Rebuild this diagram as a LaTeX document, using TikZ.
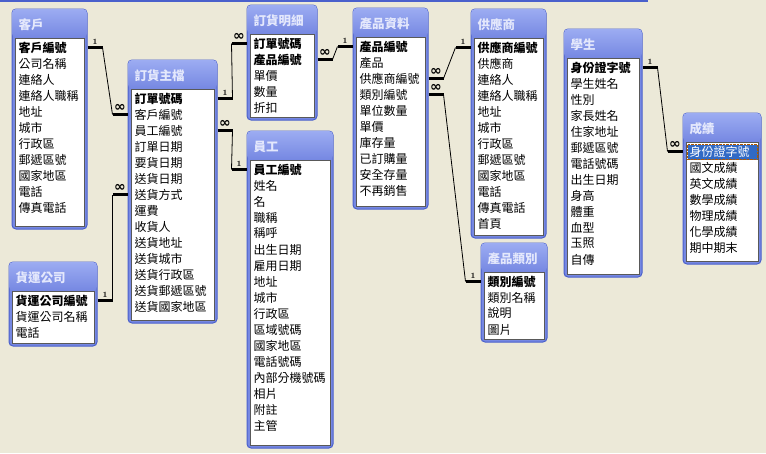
\documentclass[tikz,border=0pt]{standalone}
\usepackage{xcolor}
\usepackage{fontspec}
\newfontfamily\cjk{Noto Sans CJK TC}
\newfontfamily\dvsans{DejaVu Sans}
\usepackage{tikz}
\usetikzlibrary{positioning, fit}

\definecolor{desk}{RGB}{236,233,216}
\definecolor{framefill}{RGB}{118,136,226}
\definecolor{hdrtop}{RGB}{156,172,242}
\definecolor{hdrline}{RGB}{74,96,204}
\definecolor{titletext}{RGB}{228,232,252}
\definecolor{selblue}{RGB}{49,106,197}

\newcommand{\pk}[1]{\textbf{#1}}
\newcommand{\selrow}[1]{\textcolor{white}{#1}}
\newcommand{\many}{{\dvsans\bfseries\fontsize{14}{14}\selectfont ∞}}

% table: id, left, top, right, bottom, title
\newcommand{\dbtable}[6]{%
  \node[tblframe, fit={(#2,#3) (#4,#5)}] (#1) {};
  \shade[top color=hdrtop, bottom color=framefill, rounded corners=4pt]
    ([shift={(0.5pt,-0.5pt)}]#1.north west) rectangle ([shift={(-0.5pt,-29pt)}]#1.north east);
  \node[tbltitle] (#1-t) at ([xshift=7pt, yshift=-16pt]#1.north west) {#6};
  \draw[fieldlist] ([xshift=4pt, yshift=-29.5pt]#1.north west) rectangle ([xshift=-3pt, yshift=3pt]#1.south east);
}
% fields of a table
\newcommand{\dbfields}[2]{%
  \foreach \f [count=\i] in {#2}
    \node[field] (#1-\i) at ([xshift=5pt, yshift={-39pt-16pt*(\i-1)}]#1.north west) {\f};
}
% relationship line: from (right side), to (left side), label at from, label at to
\newcommand{\relate}[4]{%
  \draw[relend] (#1) -- node[card] {#3} ++(15,0) coordinate (ra);
  \draw[relend] (#2) -- node[card] {#4} ++(-15,0) coordinate (rb);
  \draw[relmid] (ra) -- (rb);
}

\begin{document}
\begin{tikzpicture}[
    x=1pt, y=-1pt,
    tblframe/.style={draw=hdrline, fill=framefill, line width=1pt, rounded corners=4pt, inner sep=0pt},
    tbltitle/.style={anchor=west, inner sep=0pt, text=titletext, font=\cjk\bfseries\fontsize{12.5}{14}\selectfont},
    fieldlist/.style={fill=white, draw=black!65, line width=0.9pt},
    field/.style={anchor=west, inner xsep=2pt, inner ysep=1pt, font=\cjk\fontsize{12}{14}\selectfont},
    relend/.style={line width=2.6pt, line cap=butt},
    relmid/.style={line width=0.8pt},
    card/.style={above, yshift=1.5pt, inner sep=0.5pt, font=\bfseries\fontsize{8}{8}\selectfont}
]

% Desk
\fill[desk] (0,0) rectangle (766,453);
\useasboundingbox (0,0) rectangle (766,453);
\draw[hdrline, line width=1.5pt] (0,0.75) -- (648,0.75);

% Tables
\dbtable{kh}{12}{9}{87}{229}{客戶}
\dbfields{kh}{\pk{客戶編號}, 公司名稱, 連絡人, 連絡人職稱, 地址, 城市, 行政區, 郵遞區號, 國家地區, 電話, 傳真電話}

\dbtable{hy}{9}{262}{97}{346}{貨運公司}
\dbfields{hy}{\pk{貨運公司編號}, 貨運公司名稱, 電話}

\dbtable{zh}{128}{60}{217}{323}{訂貨主檔}
\dbfields{zh}{\pk{訂單號碼}, 客戶編號, 員工編號, 訂單日期, 要貨日期, 送貨日期, 送貨方式, 運費, 收貨人, 送貨地址, 送貨城市, 送貨行政區, 送貨郵遞區號, 送貨國家地區}

\dbtable{mx}{247}{5}{317}{120}{訂貨明細}
\dbfields{mx}{\pk{訂單號碼}, \pk{產品編號}, 單價, 數量, 折扣}

\dbtable{yg}{247}{131}{333}{448}{員工}
\dbfields{yg}{\pk{員工編號}, 姓名, 名, 職稱, 稱呼, 出生日期, 雇用日期, 地址, 城市, 行政區, 區域號碼, 國家地區, 電話號碼, 內部分機號碼, 相片, 附註, 主管}

\dbtable{cp}{353}{8}{428}{209}{產品資料}
\dbfields{cp}{\pk{產品編號}, 產品, 供應商編號, 類別編號, 單位數量, 單價, 庫存量, 已訂購量, 安全存量, 不再銷售}

\dbtable{gy}{471}{9}{546}{238}{供應商}
\dbfields{gy}{\pk{供應商編號}, 供應商, 連絡人, 連絡人職稱, 地址, 城市, 行政區, 郵遞區號, 國家地區, 電話, 傳真電話, 首頁}

\dbtable{lb}{481}{243}{547}{342}{產品類別}
\dbfields{lb}{\pk{類別編號}, 類別名稱, 說明, 圖片}

\dbtable{xs}{564}{29}{642}{277}{學生}
\dbfields{xs}{\pk{身份證字號}, 學生姓名, 性別, 家長姓名, 住家地址, 郵遞區號, 電話號碼, 出生日期, 身高, 體重, 血型, 玉照, 自傳}

\dbtable{cj}{683}{113}{761}{264}{成績}
\fill[selblue] ([xshift=5pt, yshift=-32pt]cj.north west) rectangle ([xshift=-4pt, yshift=-47pt]cj.north east);
\draw[orange!70!black, densely dotted] ([xshift=5pt, yshift=-32pt]cj.north west) rectangle ([xshift=-4pt, yshift=-47pt]cj.north east);
\dbfields{cj}{\selrow{身份證字號}, 國文成績, 英文成績, 數學成績, 物理成績, 化學成績, 期中期末}

% Relationships
\relate{kh-1 -| kh.east}{zh-2 -| zh.west}{1}{\many}
\relate{hy-1 -| hy.east}{zh-7 -| zh.west}{1}{\many}
\relate{zh-1 -| zh.east}{mx-1 -| mx.west}{1}{\many}
\relate{zh-3 -| zh.east}{yg-1 -| yg.west}{\many}{1}
\relate{mx-2 -| mx.east}{cp-1 -| cp.west}{\many}{1}
\relate{cp-3 -| cp.east}{gy-1 -| gy.west}{\many}{1}
\relate{cp-4 -| cp.east}{lb-1 -| lb.west}{\many}{1}
\relate{xs-1 -| xs.east}{cj-1 -| cj.west}{1}{\many}

\end{tikzpicture}
\end{document}
